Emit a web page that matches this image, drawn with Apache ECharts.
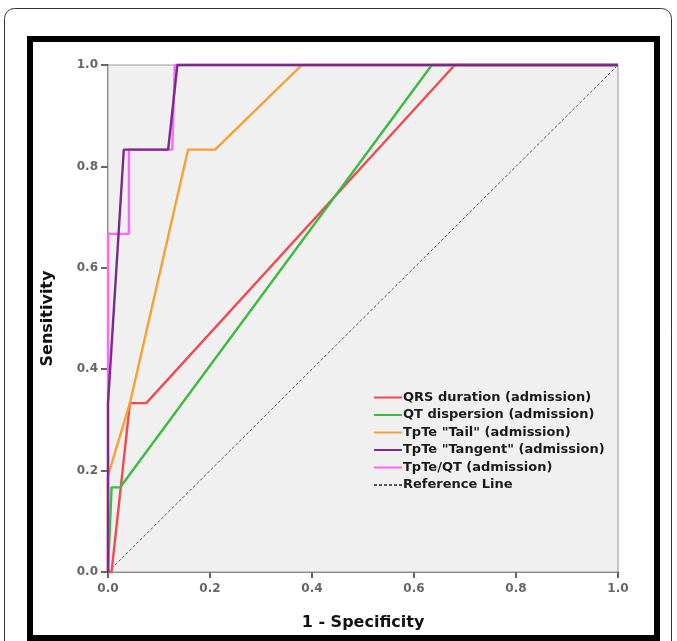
<!DOCTYPE html>
<html>
<head>
<meta charset="utf-8">
<script src="https://cdn.jsdelivr.net/npm/echarts@6/dist/echarts.min.js"></script>
<style>
html,body{margin:0;padding:0;background:#fff;}
#chart{width:677px;height:641px;}
</style>
</head>
<body>
<div id="chart"></div>
<script>
// ---- data ----
const seriesNames = [
  'QRS duration (admission)',
  'QT dispersion (admission)',
  'TpTe "Tail" (admission)',
  'TpTe "Tangent" (admission)',
  'TpTe/QT (admission)',
  'Reference Line'
];
const qrsPoints = [[0,0],[0.007,0],[0.043,0.333],[0.075,0.333],[0.68,1.0],[1,1]];
const qtPoints = [[0,0],[0.007,0.167],[0.024,0.167],[0.635,1.0],[1,1]];
const tailPoints = [[0,0],[0,0.19],[0.043,0.333],[0.157,0.833],[0.21,0.833],[0.38,1.0],[1,1]];
const tangentPoints = [[0,0],[0,0.333],[0.031,0.833],[0.118,0.833],[0.136,1.0],[1,1]];
const ratioPoints = [[0,0],[0,0.667],[0.041,0.667],[0.041,0.833],[0.126,0.833],[0.131,1.0],[1,1]];
const referencePoints = [[0,0],[1,1]];

const colors = ['#f04a50','#3cbb40','#f7a033','#7a2a8a','#ff66ff','#555555'];
const boldFont = '"DejaVu Sans", Verdana, sans-serif';

const chart = echarts.init(document.getElementById('chart'), null, {renderer:'canvas'});

function lineSeries(i, data, z, dashed){
  return {
    name: seriesNames[i],
    type: 'line',
    data: data,
    symbol: 'none',
    clip: false,
    z: z,
    animation: false,
    lineStyle: {color: colors[i], width: dashed ? 1 : 2.4, type: dashed ? [3,2] : 'solid'},
    itemStyle: {color: colors[i]}
  };
}

const option = {
  animation: false,
  backgroundColor: '#ffffff',
  graphic: [
    {type:'rect', shape:{x:4.5, y:8.5, width:667, height:660, r:10}, style:{fill:'none', stroke:'#333', lineWidth:1}, z:0},
    {type:'rect', shape:{x:30, y:39, width:627, height:599}, style:{fill:'#fff', stroke:'#000', lineWidth:6}, z:0}
  ],
  grid: {
    left: 108, top: 65, right: 59, bottom: 69,
    show: true, backgroundColor: '#f0f0f0', borderColor: '#9a9a9a', borderWidth: 1, z: 1
  },
  legend: {
    orient: 'vertical',
    left: 373, top: 391, padding: 0,
    itemWidth: 28, itemHeight: 13.2, itemGap: 4.5,
    data: seriesNames,
    itemStyle: {opacity: 0},
    textStyle: {fontFamily: boldFont, fontWeight: 'bold', fontSize: 13, color: '#1a1a1a', padding:[0,0,0,-4]},
    selectedMode: false
  },
  xAxis: {
    type: 'value', min: 0, max: 1, interval: 0.2,
    name: '1 - Specificity', nameLocation: 'middle', nameGap: 43,
    nameTextStyle: {fontFamily: boldFont, fontWeight: 'bold', fontSize: 16, color: '#111'},
    axisLine: {show: true, lineStyle: {color: '#555', width: 1.5}},
    axisTick: {show: true, length: 6, lineStyle: {color: '#333', width: 1.5}},
    axisLabel: {fontFamily: boldFont, fontWeight: 'bold', fontSize: 12, color: '#666', margin: 11, formatter: v => v.toFixed(1)},
    splitLine: {show: false}
  },
  yAxis: {
    type: 'value', min: 0, max: 1, interval: 0.2,
    name: 'Sensitivity', nameLocation: 'middle', nameGap: 52,
    nameTextStyle: {fontFamily: boldFont, fontWeight: 'bold', fontSize: 16, color: '#111'},
    axisLine: {show: true, lineStyle: {color: '#555', width: 1.5}},
    axisTick: {show: true, length: 7, lineStyle: {color: '#333', width: 1.5}},
    axisLabel: {fontFamily: boldFont, fontWeight: 'bold', fontSize: 12, color: '#666', margin: 10, formatter: v => v.toFixed(1)},
    splitLine: {show: false}
  },
  series: [
    lineSeries(0, qrsPoints, 3),
    lineSeries(1, qtPoints, 4),
    lineSeries(2, tailPoints, 5),
    lineSeries(3, tangentPoints, 7),
    lineSeries(4, ratioPoints, 6),
    lineSeries(5, referencePoints, 2, true)
  ]
};
chart.setOption(option);
</script>
</body>
</html>
